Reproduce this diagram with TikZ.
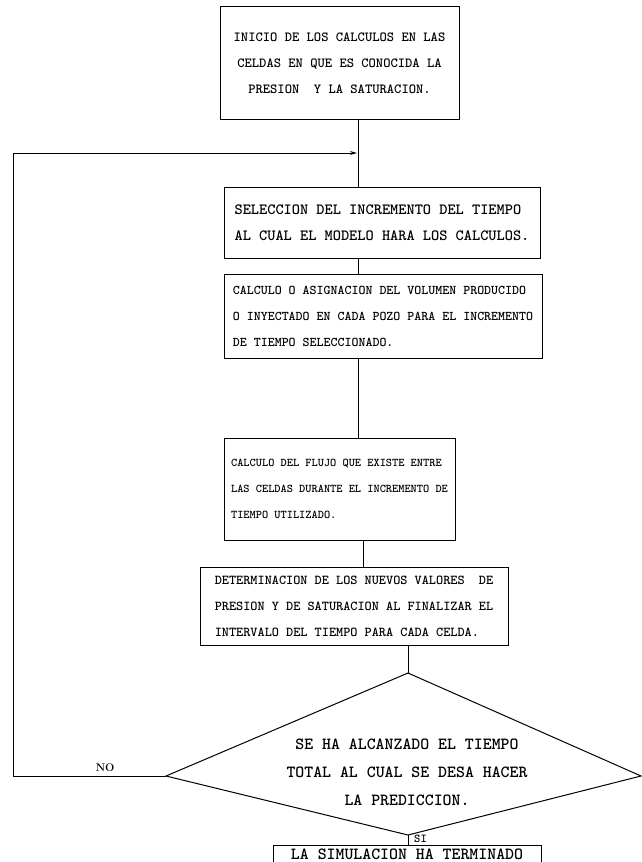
\documentclass[tikz,border=0pt]{standalone}
\usetikzlibrary{arrows.meta}
\tikzset{caja/.style={draw, line width=1pt, inner xsep=8pt, inner ysep=0pt, align=left}}
\tikzset{liga/.style={line width=1pt}}
\tikzset{etiq/.style={inner sep=1pt, font=\bfseries\fontsize{11}{13}\selectfont}}
\newcommand{\letra}[1]{\ttfamily\bfseries\fontsize{#1}{26}\selectfont}

\begin{document}
\begin{tikzpicture}[x=1pt, y=-1pt]
\useasboundingbox[fill=white] (0,0) rectangle (642,862);
% cajas del diagrama
\node[caja, align=center, minimum width=239pt, minimum height=113pt, font=\letra{13.9}] (inicio) at (339.5,63) {INICIO DE LOS CALCULOS EN LAS\\CELDAS EN QUE ES CONOCIDA LA\\PRESION~~Y LA SATURACION.};
\node[caja, minimum width=316pt, minimum height=71pt, font=\letra{15.6}] (incremento) at (382,222.5) {SELECCION DEL INCREMENTO DEL TIEMPO\\AL CUAL EL MODELO HARA LOS CALCULOS.};
\node[caja, minimum width=318pt, minimum height=84pt, font=\letra{13.3}] (volumen) at (383,316) {CALCULO O ASIGNACION DEL VOLUMEN PRODUCIDO\\O INYECTADO EN CADA POZO PARA EL INCREMENTO\\DE TIEMPO SELECCIONADO.};
\node[caja, inner xsep=6pt, minimum width=231pt, minimum height=102pt, font=\letra{11.8}] (flujo) at (339.5,489) {CALCULO DEL FLUJO QUE EXISTE ENTRE\\LAS CELDAS DURANTE EL INCREMENTO DE\\TIEMPO UTILIZADO.};
\node[caja, minimum width=308pt, minimum height=78pt, font=\letra{13.6}] (valores) at (354,606) {DETERMINACION DE LOS NUEVOS VALORES~~DE\\PRESION Y DE SATURACION AL FINALIZAR EL\\INTERVALO DEL TIEMPO PARA CADA CELDA.};

% rombo de decision
\coordinate (dsup) at (408,673);
\coordinate (dizq) at (166,776);
\coordinate (dder) at (641,776);
\coordinate (dinf) at (408,835);
\draw[liga] (dsup) -- (dder) -- (dinf) -- (dizq) -- cycle;
\node[align=center, font=\ttfamily\bfseries\fontsize{17}{28}\selectfont] (pregunta) at (407,772) {SE HA ALCANZADO EL TIEMPO\\TOTAL AL CUAL SE DESA HACER\\LA PREDICCION.};

\node[draw, line width=1pt, anchor=north, minimum width=268pt, inner ysep=3pt, text depth=7pt, font=\ttfamily\bfseries\fontsize{17}{20}\selectfont] (fin) at (407,845) {LA SIMULACION HA TERMINADO};

% conectores
\coordinate (union) at (358,153);
\coordinate (retorno) at (13,776);
\draw[liga] (inicio.south -| union) -- (incremento.north -| union);
\draw[liga] (incremento.south -| union) -- (volumen.north -| union);
\draw[liga] (volumen.south -| union) -- (flujo.north -| union);
\draw[liga] (flujo.south -| 363,0) -- (valores.north -| 363,0);
\draw[liga] (valores.south -| dsup) -- (dsup);
\draw[liga] (dinf) -- (fin.north -| dinf);
\draw[liga, -{Stealth[length=7pt, width=4pt]}] (dizq) -- (retorno) |- ([xshift=-1pt]union);

\node[etiq] (no) at (105,768) {NO};
\node[etiq, font=\ttfamily\bfseries\fontsize{12}{13}\selectfont, anchor=south west] (si) at (413,844) {SI};
\end{tikzpicture}
\end{document}
